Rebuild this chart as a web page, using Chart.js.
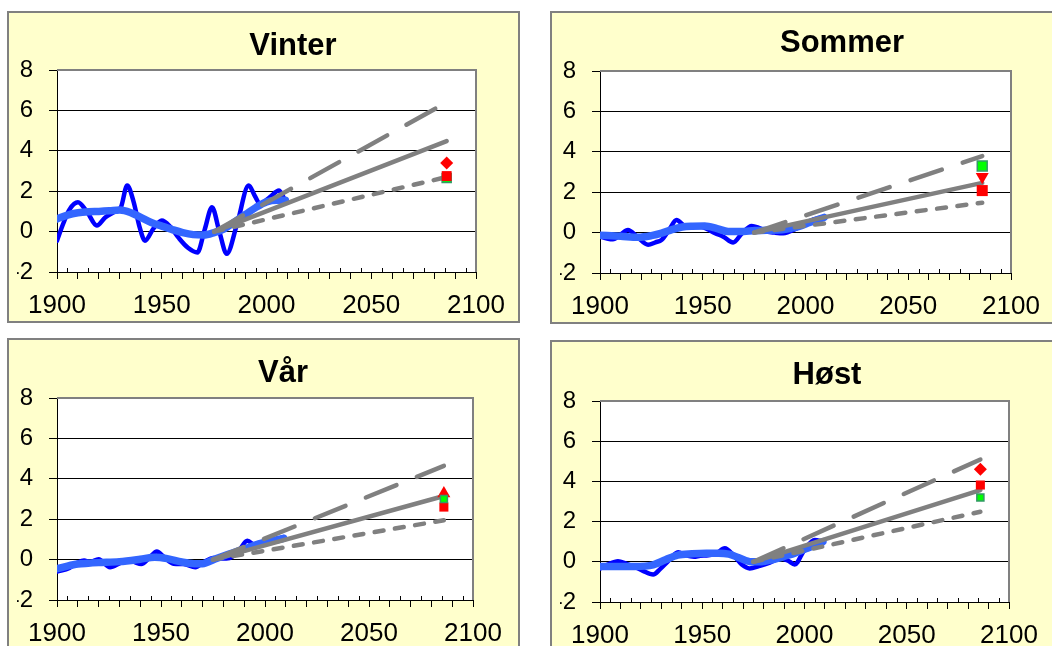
<!DOCTYPE html>
<html>

<head>
    <meta charset="UTF-8">
    <title>Temperaturendring per sesong</title>
    <style>
        body {
            margin: 0;
            width: 1052px;
            height: 646px;
            overflow: hidden;
            position: relative;
            background: #ffffff;
            font-family: "Liberation Sans", Arial, sans-serif;
        }

        .panel {
            position: absolute;
            box-sizing: border-box;
            border: 2px solid #808080;
            background: #ffffcc;
        }

        .panel canvas {
            position: absolute;
            left: 0;
            top: 0;
        }

        .title {
            position: absolute;
            font-weight: bold;
            font-size: 31px;
            line-height: 1;
            white-space: nowrap;
            transform: translate(-50%, -50%);
        }
    </style>
</head>

<body>
    <div class="panel" id="panel-vinter"><canvas id="chart-vinter"></canvas></div>
    <div class="panel" id="panel-sommer"><canvas id="chart-sommer"></canvas></div>
    <div class="panel" id="panel-var"><canvas id="chart-var"></canvas></div>
    <div class="panel" id="panel-host"><canvas id="chart-host"></canvas></div>

    <div class="title" style="left:293px;top:44px">Vinter</div>
    <div class="title" style="left:842px;top:41px">Sommer</div>
    <div class="title" style="left:283px;top:371px">Vår</div>
    <div class="title" style="left:827px;top:373px">Høst</div>

    <script src="https://cdn.jsdelivr.net/npm/chart.js"></script>
    <script>
        // axes
        const yTicks = [-2, 0, 2, 4, 6, 8];
        const xLabelYears = [1900, 1950, 2000, 2050, 2100];

        // projections: start and end year, values at those years
        const projYears = [1975, 2086];
        const markerYear = 2086;

        // Vinter
        const vinterYears = [1900, 1903, 1906, 1910, 1914.5, 1919, 1923, 1927, 1930.5, 1933.5, 1936.5, 1939.5, 1942, 1946, 1950, 1954, 1958, 1962.5, 1967, 1970.5, 1974, 1977.5, 1981, 1986, 1991.5, 1994.5, 1997, 2001.5, 2006, 2009];
        const vinterTemp = [-0.45, 0.4, 1.1, 1.45, 0.95, 0.3, 0.7, 0.95, 1.2, 2.28, 1.5, 0.2, -0.45, 0.15, 0.55, 0.25, -0.3, -0.8, -1.03, 0.1, 1.2, 0.0, -1.1, 0.4, 2.28, 1.75, 1.37, 1.7, 2.03, 1.5];
        const vinterSmoothYears = [1900, 1905, 1910, 1915, 1920, 1925, 1930, 1935, 1940, 1945, 1950, 1955, 1960, 1965, 1970, 1975, 1980, 1985, 1990, 1995, 2000, 2005, 2009];
        const vinterSmooth = [0.63, 0.82, 0.93, 0.98, 1.0, 1.03, 1.07, 0.95, 0.7, 0.45, 0.27, 0.1, -0.05, -0.15, -0.17, -0.05, 0.15, 0.5, 0.85, 1.2, 1.47, 1.55, 1.55];
        const vinterLow = [0, 2.7];
        const vinterMid = [0, 4.48];
        const vinterHigh = [0, 6.4];
        const vinterMarks = [3.4, 2.75, 2.65]; // red shape, red square, green square

        // Sommer
        const sommerYears = [1900, 1903, 1906.3, 1910, 1913.6, 1918, 1923.4, 1927, 1930, 1934, 1937.2, 1942, 1947.8, 1952, 1956, 1960, 1964.8, 1969, 1973.8, 1977, 1981.3, 1985, 1989.2, 1995.7, 2000, 2004, 2009];
        const sommerTemp = [-0.2, -0.28, -0.33, -0.1, 0.13, -0.2, -0.6, -0.48, -0.36, 0.2, 0.62, 0.3, 0.33, 0.18, -0.03, -0.2, -0.49, -0.05, 0.33, 0.25, 0.05, 0.0, -0.03, 0.21, 0.45, 0.65, 0.77];
        const sommerSmoothYears = [1900, 1910, 1918.5, 1925, 1930, 1935, 1940, 1945, 1951, 1957, 1962.4, 1968, 1975.4, 1981, 1986.7, 1991, 1996.5, 2002, 2009];
        const sommerSmooth = [-0.13, -0.18, -0.23, -0.15, -0.03, 0.15, 0.28, 0.32, 0.33, 0.2, 0.05, 0.05, 0.1, 0.12, 0.13, 0.18, 0.3, 0.5, 0.75];
        const sommerLow = [0, 1.48];
        const sommerMid = [0, 2.46];
        const sommerHigh = [0, 3.79];
        const sommerMarks = [2.77, 2.08, 3.3];

        // Vår
        const varYears = [1900, 1906, 1910, 1913, 1916, 1920, 1925.5, 1931, 1936, 1940.5, 1944.5, 1948, 1951.5, 1956, 1961, 1966.5, 1971, 1975, 1979, 1983, 1987.5, 1991.5, 1995.5, 2000, 2004, 2009];
        const varTemp = [-0.6, -0.41, -0.15, -0.05, -0.12, 0.02, -0.38, -0.15, -0.1, -0.22, 0.1, 0.4, 0.12, -0.2, -0.22, -0.38, -0.1, 0.08, 0.05, 0.08, 0.45, 0.93, 0.7, 0.82, 0.95, 1.12];
        const varSmoothYears = [1900, 1905, 1910, 1915, 1920, 1930, 1940, 1947, 1953, 1960, 1966, 1970, 1976, 1982, 1987, 1992, 1997, 2003, 2009];
        const varSmooth = [-0.45, -0.32, -0.22, -0.18, -0.15, -0.1, 0.02, 0.12, 0.05, -0.12, -0.2, -0.2, 0.03, 0.25, 0.42, 0.6, 0.78, 0.92, 1.05];
        const varLow = [0, 1.95];
        const varMid = [0, 3.15];
        const varHigh = [0, 4.64];
        const varMarks = [3.27, 2.6, 3.0];

        // Høst
        const hostYears = [1900, 1904, 1908.8, 1913, 1917, 1921, 1926, 1929.5, 1933, 1938.2, 1942, 1946, 1949, 1953, 1957, 1961, 1965.5, 1969.5, 1973.2, 1978, 1982, 1988.5, 1992, 1995.2, 2000, 2005, 2009];
        const hostTemp = [-0.33, -0.12, 0.03, -0.1, -0.25, -0.45, -0.63, -0.35, 0.0, 0.47, 0.32, 0.25, 0.3, 0.32, 0.42, 0.67, 0.3, -0.15, -0.33, -0.2, -0.08, 0.17, 0.05, -0.13, 0.6, 1.08, 1.0];
        const hostSmoothYears = [1900, 1910, 1917, 1926, 1932, 1938, 1945, 1952, 1958, 1963, 1968, 1974, 1980, 1987, 1991, 1995, 2002, 2009];
        const hostSmooth = [-0.23, -0.23, -0.23, -0.15, 0.1, 0.33, 0.4, 0.43, 0.43, 0.38, 0.2, 0.0, 0.02, 0.17, 0.3, 0.42, 0.7, 1.0];
        const hostLow = [0, 2.49];
        const hostMid = [0, 3.57];
        const hostHigh = [0, 5.09];
        const hostMarks = [4.61, 3.82, 3.2];

        const FONT = "'Liberation Sans', Arial, sans-serif";
        const GRAY = "#808080";
        const RED = "#ff0000";
        const GREEN = "#00ff00";
        const DARK_GREEN = "#339966";

        function pts(xs, ys) {
            return xs.map((x, i) => ({ x: x, y: ys[i] }));
        }

        function marker(value, style, radius, fill, stroke, rotation) {
            return {
                data: [{ x: markerYear, y: value }],
                showLine: false,
                pointStyle: style,
                pointRadius: radius,
                pointHoverRadius: radius,
                pointRotation: rotation || 0,
                pointBackgroundColor: fill,
                pointBorderColor: stroke || fill,
                pointBorderWidth: stroke ? 1.5 : 0
            };
        }

        function projLine(values, dash) {
            return {
                data: pts(projYears, values),
                borderColor: GRAY,
                borderWidth: 4.5,
                borderDash: dash,
                borderCapStyle: "round",
                pointRadius: 0
            };
        }

        // white plot area, grey top/right frame and the small inner ticks
        const framePlugin = {
            id: "frame",
            beforeDraw(chart) {
                const a = chart.chartArea;
                chart.ctx.save();
                chart.ctx.fillStyle = "#ffffff";
                chart.ctx.fillRect(a.left, a.top, a.right - a.left, a.bottom - a.top);
                chart.ctx.restore();
            },
            beforeDatasetsDraw(chart) {
                const ctx = chart.ctx;
                const a = chart.chartArea;
                const xs = chart.scales.x;
                ctx.save();
                ctx.strokeStyle = GRAY;
                ctx.lineWidth = 2;
                ctx.beginPath();
                ctx.moveTo(a.left, a.top);
                ctx.lineTo(a.right, a.top);
                ctx.lineTo(a.right, a.bottom);
                ctx.stroke();
                ctx.strokeStyle = "#000";
                ctx.lineWidth = 1;
                for (let v = 1905; v < 2100; v += 10) {
                    const px = Math.round(xs.getPixelForValue(v)) + 0.5;
                    ctx.beginPath();
                    ctx.moveTo(px, a.bottom);
                    ctx.lineTo(px, a.bottom - 4);
                    ctx.stroke();
                }
                ctx.restore();
            }
        };

        const Y_AXIS_W = 40;
        const X_AXIS_H = 45;

        function makeChart(p) {
            const panel = document.getElementById("panel-" + p.id);
            const [left, top, w, h] = p.box;
            panel.style.left = left + "px";
            panel.style.top = top + "px";
            panel.style.width = w + "px";
            panel.style.height = h + "px";
            const ox = left + 2, oy = top + 2, cw = w - 4, ch = h - 4;
            const canvas = document.getElementById("chart-" + p.id);
            canvas.width = cw;
            canvas.height = ch;
            const [L, T, R, B] = p.plot;

            const redShape = marker(p.marks[0], p.shape[0], p.shape[1], RED, null, p.shape[2]);
            const redSquare = marker(p.marks[1], "rect", p.redSize, RED);
            const greenSquare = marker(p.marks[2], "rect", p.greenSize, GREEN, DARK_GREEN);
            const markers = p.greenOnTop ? [greenSquare, redShape, redSquare] : [redShape, redSquare, greenSquare];

            const datasets = markers.concat([
                projLine(p.high, [33, 22]),
                projLine(p.mid, []),
                projLine(p.low, [9, 11.5]),
                {
                    data: pts(p.smoothYears, p.smooth),
                    borderColor: "#3366ff",
                    borderWidth: 7.5,
                    borderCapStyle: "round",
                    borderJoinStyle: "round",
                    cubicInterpolationMode: "monotone",
                    pointRadius: 0
                },
                {
                    data: pts(p.years, p.temp),
                    borderColor: "#0000ff",
                    borderWidth: 4.5,
                    borderCapStyle: "round",
                    borderJoinStyle: "round",
                    cubicInterpolationMode: "monotone",
                    pointRadius: 0
                }
            ]);

            return new Chart(canvas, {
                type: "line",
                data: { datasets: datasets },
                plugins: [framePlugin],
                options: {
                    responsive: false,
                    animation: false,
                    events: [],
                    layout: {
                        padding: {
                            left: L - ox - Y_AXIS_W,
                            right: ox + cw - R,
                            top: T - oy,
                            bottom: oy + ch - B - X_AXIS_H
                        }
                    },
                    plugins: {
                        legend: { display: false },
                        tooltip: { enabled: false },
                        title: { display: false }
                    },
                    scales: {
                        x: {
                            type: "linear",
                            min: xLabelYears[0],
                            max: xLabelYears[xLabelYears.length - 1],
                            afterFit: (s) => { s.height = X_AXIS_H; },
                            ticks: {
                                stepSize: 5,
                                autoSkip: false,
                                maxRotation: 0,
                                minRotation: 0,
                                padding: 11,
                                color: "#000",
                                font: { family: FONT, size: 26 },
                                callback: (v) => (xLabelYears.includes(v) ? String(v) : "")
                            },
                            grid: {
                                drawOnChartArea: false,
                                tickLength: 7,
                                tickWidth: 1,
                                tickColor: (c) => (c.tick && c.tick.value % 10 === 0 ? "#000" : "rgba(0,0,0,0)")
                            },
                            border: { color: "#000", width: 1 }
                        },
                        y: {
                            min: yTicks[0],
                            max: yTicks[yTicks.length - 1],
                            afterFit: (s) => { s.width = Y_AXIS_W; },
                            ticks: {
                                stepSize: 2,
                                padding: 16,
                                color: "#000",
                                font: { family: FONT, size: 24 }
                            },
                            grid: {
                                color: (c) => (c.tick && c.tick.value === yTicks[yTicks.length - 1] ? "rgba(0,0,0,0)" : "#000"),
                                lineWidth: 1,
                                tickColor: "#000",
                                tickLength: 8
                            },
                            border: { color: "#000", width: 1 }
                        }
                    }
                }
            });
        }

        const panels = [
            {
                id: "vinter", box: [7, 11, 513, 312], plot: [57, 70, 476, 272],
                years: vinterYears, temp: vinterTemp, smoothYears: vinterSmoothYears, smooth: vinterSmooth,
                low: vinterLow, mid: vinterMid, high: vinterHigh, marks: vinterMarks,
                shape: ["rectRot", 6.5, 0], redSize: 7, greenSize: 6.4, greenOnTop: false
            },
            {
                id: "sommer", box: [550, 11, 513, 313], plot: [600, 71, 1011, 273],
                years: sommerYears, temp: sommerTemp, smoothYears: sommerSmoothYears, smooth: sommerSmooth,
                low: sommerLow, mid: sommerMid, high: sommerHigh, marks: sommerMarks,
                shape: ["triangle", 7.5, 180], redSize: 7.8, greenSize: 7, greenOnTop: true
            },
            {
                id: "var", box: [7, 338, 513, 320], plot: [57, 398, 473, 600],
                years: varYears, temp: varTemp, smoothYears: varSmoothYears, smooth: varSmooth,
                low: varLow, mid: varMid, high: varHigh, marks: varMarks,
                shape: ["triangle", 7.5, 0], redSize: 6.4, greenSize: 5, greenOnTop: true
            },
            {
                id: "host", box: [550, 340, 513, 320], plot: [600, 401, 1009, 602],
                years: hostYears, temp: hostTemp, smoothYears: hostSmoothYears, smooth: hostSmooth,
                low: hostLow, mid: hostMid, high: hostHigh, marks: hostMarks,
                shape: ["rectRot", 6.5, 0], redSize: 6.4, greenSize: 5, greenOnTop: true
            }
        ];

        panels.forEach(makeChart);
    </script>
</body>

</html>
